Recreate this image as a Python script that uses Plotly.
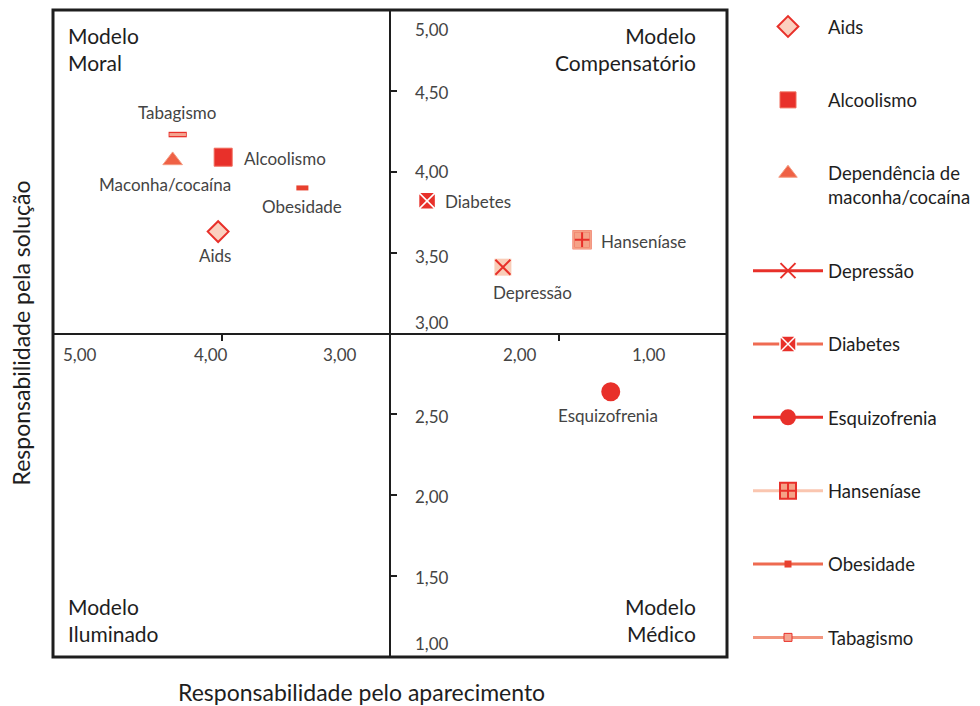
import plotly.graph_objects as go

# ---------------- data ----------------
categories = ["Aids", "Alcoolismo", "Dependência de maconha/cocaína", "Depressão",
              "Diabetes", "Esquizofrenia", "Hanseníase", "Obesidade", "Tabagismo"]
legend_names = ["Aids", "Alcoolismo", "Dependência de<br>maconha/cocaína", "Depressão",
                "Diabetes", "Esquizofrenia", "Hanseníase", "Obesidade", "Tabagismo"]
point_labels = ["Aids", "Alcoolismo", "Maconha/cocaína", "Depressão",
                "Diabetes", "Esquizofrenia", "Hanseníase", "Obesidade", "Tabagismo"]
x_aparecimento = [4.02, 3.99, 4.29, 2.33, 2.78, 1.69, 1.86, 3.52, 4.26]
y_solucao = [3.63, 4.09, 4.07, 3.41, 3.82, 2.64, 3.58, 3.90, 4.23]

x_tick_values = [5, 4, 3, 2, 1]
x_tick_labels = ["5,00", "4,00", "3,00", "2,00", "1,00"]
y_tick_values = [5, 4.5, 4, 3.5, 3, 2.5, 2, 1.5, 1]
y_tick_labels = ["5,00", "4,50", "4,00", "3,50", "3,00", "2,50", "2,00", "1,50", "1,00"]

quadrants = ["Modelo<br>Moral", "Modelo<br>Compensatório", "Modelo<br>Iluminado", "Modelo<br>Médico"]

# ---------------- styles ----------------
RED = "#e8302a"
FONT = "Lato"
DARK = "#1e1e1e"
GRAY = "#444444"

# page body has an 8px margin: figure is sized/placed to compensate
FIG_W, FIG_H = 972, 698

x_label_shift = [26.5, -10.5, -50, -38.5, -78.5]
y_label_shift = [-19, -2, 0, -4, 11, -2.5, -1, -1.5, 14]
# (xanchor, xshift, yshift) for point labels
label_pos = [("center", -3.5, -24), ("left", 19, -1.5), ("center", -8, -24),
             ("center", 30, -25), ("left", 15.5, -1), ("center", -2.5, -24),
             ("left", 17, -2), ("center", 0, -18.5), ("center", -1, 22)]

fig = go.Figure()


def pt(i):
    return [x_aparecimento[i]], [y_solucao[i]]


def add(i, mode, marker, line=None, showlegend=True, proxy=False):
    x, y = ([None], [None]) if proxy else pt(i)
    fig.add_trace(go.Scatter(
        x=x, y=y, mode=mode, marker=marker,
        line=line if line else dict(width=3),
        name=legend_names[i],
        legendgroup=categories[i], showlegend=showlegend,
        hoverinfo="name"))


# Aids
add(0, "markers", dict(symbol="diamond", size=16, color="#fbd0bf", line=dict(color=RED, width=2)))
# Alcoolismo
add(1, "markers", dict(symbol="square", size=18, color=RED, line=dict(color="#f06a5a", width=1)))
# Dependência
add(2, "markers", dict(symbol="triangle-up", size=17, color="#ef6145", line=dict(color="#f49a80", width=1)))
# Depressão (underlay + x)
add(3, "markers", dict(symbol="square", size=17, color="#f9cdb8", line=dict(width=0)), showlegend=False)
add(3, "lines+markers", dict(symbol="x-thin-open", size=15, color=RED, line=dict(color=RED, width=2)),
    line=dict(color=RED, width=3))
# Diabetes
add(4, "lines+markers", dict(symbol="square-x", size=17, color=RED, line=dict(color="white", width=1.5)),
    line=dict(color="#ef6b52", width=3))
# Esquizofrenia
add(5, "lines+markers", dict(symbol="circle", size=19, color=RED, line=dict(color=RED, width=0)),
    line=dict(color=RED, width=3))
# Hanseníase (square with cross, border hidden by salmon outline)
add(6, "lines+markers", dict(symbol="square-cross", size=17, color="#f5a287", line=dict(color=RED, width=2)),
    line=dict(color="#fac6b0", width=3))
add(6, "markers", dict(symbol="square-open", size=17, color="#f5a287", line=dict(color="#f5a287", width=2)),
    showlegend=False)
# Obesidade (chart mark + legend proxy)
add(7, "markers", dict(symbol="line-ew", size=8.6, color="#e8402e", line=dict(color="#e8402e", width=5)),
    showlegend=False)
add(7, "lines+markers", dict(symbol="square", size=7, color="#e8402e", line=dict(width=0)),
    line=dict(color="#ee6a50", width=3), proxy=True)
# Tabagismo (outline + fill + legend proxy)
add(8, "markers", dict(symbol="line-ew", size=13, color=RED, line=dict(color=RED, width=5.5)), showlegend=False)
add(8, "markers", dict(symbol="line-ew", size=11.8, color="#f4a591", line=dict(color="#f4a591", width=3)),
    showlegend=False)
add(8, "lines+markers", dict(symbol="square", size=8, color="#f4a591", line=dict(color=RED, width=1)),
    line=dict(color="#f2957e", width=3), proxy=True)

annotations = []
# point labels
for i, lab in enumerate(point_labels):
    xa, xs, ys = label_pos[i]
    annotations.append(dict(x=x_aparecimento[i], y=y_solucao[i], xref="x", yref="y", text=lab,
                            showarrow=False, xanchor=xa, yanchor="middle", xshift=xs, yshift=ys,
                            font=dict(family=FONT, size=17, color=GRAY)))
# axis tick labels
for v, lab, s in zip(x_tick_values, x_tick_labels, x_label_shift):
    annotations.append(dict(x=v, y=3, xref="x", yref="y", text=lab, showarrow=False,
                            xanchor="center", yanchor="middle", xshift=s, yshift=-21,
                            font=dict(family=FONT, size=17, color=GRAY)))
for v, lab, s in zip(y_tick_values, y_tick_labels, y_label_shift):
    annotations.append(dict(x=3, y=v, xref="x", yref="y", text=lab, showarrow=False,
                            xanchor="left", yanchor="middle", xshift=23, yshift=s,
                            font=dict(family=FONT, size=17, color=GRAY)))
# quadrant labels
qfont = dict(family=FONT, size=21, color=DARK)
annotations += [
    dict(x=0, y=1, xref="paper", yref="paper", text=quadrants[0], showarrow=False, align="left",
         xanchor="left", yanchor="top", xshift=13, yshift=-11, font=qfont),
    dict(x=1, y=1, xref="paper", yref="paper", text=quadrants[1], showarrow=False, align="right",
         xanchor="right", yanchor="top", xshift=-29, yshift=-11, font=qfont),
    dict(x=0, y=0, xref="paper", yref="paper", text=quadrants[2], showarrow=False, align="left",
         xanchor="left", yanchor="bottom", xshift=13, yshift=9, font=qfont),
    dict(x=1, y=0, xref="paper", yref="paper", text=quadrants[3], showarrow=False, align="right",
         xanchor="right", yanchor="bottom", xshift=-29, yshift=9, font=qfont),
]
# axis titles
annotations += [
    dict(x=0.457, y=0, xref="paper", yref="paper", text="Responsabilidade pelo aparecimento",
         showarrow=False, xanchor="center", yanchor="middle", yshift=-35,
         font=dict(family=FONT, size=23, color=DARK)),
    dict(x=0, y=0.5, xref="paper", yref="paper", text="Responsabilidade pela solução",
         showarrow=False, xanchor="center", yanchor="middle", xshift=-33, textangle=-90,
         font=dict(family=FONT, size=23, color=DARK)),
]

fig.update_layout(
    width=FIG_W, height=FIG_H,
    margin=dict(l=45, r=253, t=2, b=49, autoexpand=False),
    paper_bgcolor="white", plot_bgcolor="white",
    font=dict(family=FONT, color=DARK),
    showlegend=True,
    legend=dict(xref="container", yref="container", x=740 / FIG_W, y=1,
                xanchor="left", yanchor="top", itemwidth=70, valign="top",
                tracegroupgap=46.3, maxheight=FIG_H, font=dict(family=FONT, size=18.5, color=DARK),
                bgcolor="rgba(0,0,0,0)"),
    xaxis=dict(range=[5, 1], autorange=False, showgrid=False, zeroline=False,
               showline=True, linecolor=DARK, linewidth=2, anchor="free", position=0.5,
               ticks="outside", ticklen=6, tickwidth=2, tickcolor=DARK,
               tickvals=[4, 2], showticklabels=False, fixedrange=True),
    yaxis=dict(range=[1, 5], autorange=False, showgrid=False, zeroline=False,
               showline=True, linecolor=DARK, linewidth=2, anchor="free", position=0.5,
               ticks="inside", ticklen=6, tickwidth=2, tickcolor=DARK,
               tickvals=[1.5, 2, 2.5, 3.5, 4, 4.5], showticklabels=False, fixedrange=True),
    shapes=[dict(type="rect", xref="paper", yref="paper", x0=0, x1=1, y0=0, y1=1,
                 line=dict(color=DARK, width=3), layer="above")],
    annotations=annotations,
)

fig.write_html("out.html")
